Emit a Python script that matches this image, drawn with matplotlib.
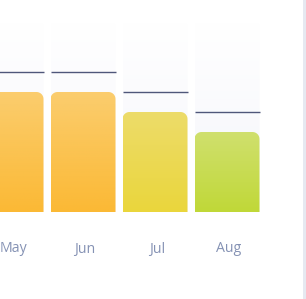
import numpy as np
import matplotlib
matplotlib.use("Agg")
import matplotlib.pyplot as plt
from matplotlib.path import Path
from matplotlib.patches import PathPatch, Rectangle

months = ["May", "Jun", "Jul", "Aug"]
values = [60, 60, 50, 40]
targets = [70, 70, 60, 50]
track_max = 95

# gradient colours per bar (top, bottom)
bar_colors = [("#fbcd6e", "#fbb935"), ("#fbcd6e", "#fbb935"),
              ("#eddc6a", "#ead63c"), ("#d0e06e", "#c0d838")]

W, H, DPI = 306, 299, 100
fig = plt.figure(figsize=(W / DPI, H / DPI), dpi=DPI)
ax = fig.add_axes([0, 0, 1, 1])
# 72 px per category, 2 px per value unit
ax.set_xlim(-11 / 72, (W - 11) / 72)
ax.set_ylim(-(H - 212) / 2, 212 / 2)
ax.axis("off")

width = 65 / 72
px_x = 1 / 72
px_y = 0.5


def top_rounded(x0, x1, y0, y1, r):
    rx, ry = r * px_x, r * px_y
    pts = [(x0, y0), (x1, y0), (x1, y1 - ry)]
    for t in np.linspace(0, np.pi / 2, 10):
        pts.append((x1 - rx + rx * np.cos(t), y1 - ry + ry * np.sin(t)))
    for t in np.linspace(np.pi / 2, np.pi, 10):
        pts.append((x0 + rx + rx * np.cos(t), y1 - ry + ry * np.sin(t)))
    pts.append((x0, y0))
    codes = [Path.MOVETO] + [Path.LINETO] * (len(pts) - 2) + [Path.CLOSEPOLY]
    return Path(pts, codes)


def gradient(c_top, c_bot, n=64):
    a = np.array(matplotlib.colors.to_rgb(c_top))
    b = np.array(matplotlib.colors.to_rgb(c_bot))
    t = np.linspace(0, 1, n)[:, None]
    return (a * (1 - t) + b * t)[:, None, :]


for i, m in enumerate(months):
    x0, x1 = i - width / 2, i + width / 2

    # track behind the bar
    track = PathPatch(top_rounded(x0, x1, 0, track_max, 4), fc="none", ec="none")
    ax.add_patch(track)
    im = ax.imshow(gradient("#ffffff", "#f4f5fb"), extent=(x0, x1, 0, track_max),
                   aspect="auto", zorder=1)
    im.set_clip_path(track)

    # value bar
    bar = PathPatch(top_rounded(x0, x1, 0, values[i], 7), fc="none", ec="none")
    ax.add_patch(bar)
    im = ax.imshow(gradient(*bar_colors[i]), extent=(x0, x1, 0, values[i]),
                   aspect="auto", zorder=2)
    im.set_clip_path(bar)

    # target line
    ax.plot([x0, x1], [targets[i], targets[i]], color="#4f577a", lw=1.0, zorder=3,
            solid_capstyle="butt")

    ax.text(i + 2 / 72, -18.5, m, ha="center", va="center", fontsize=10.2,
            family="Open Sans", color="#8592b4")

ax.set_xlim(-11 / 72, (W - 11) / 72)
ax.set_ylim(-(H - 212) / 2, 212 / 2)

# light border at the right edge
fig.patches.append(Rectangle((303 / W, 0), 3 / W, 1, transform=fig.transFigure,
                             fc="#e6e9f1", ec="none"))

fig.savefig("out.png", dpi=DPI)
